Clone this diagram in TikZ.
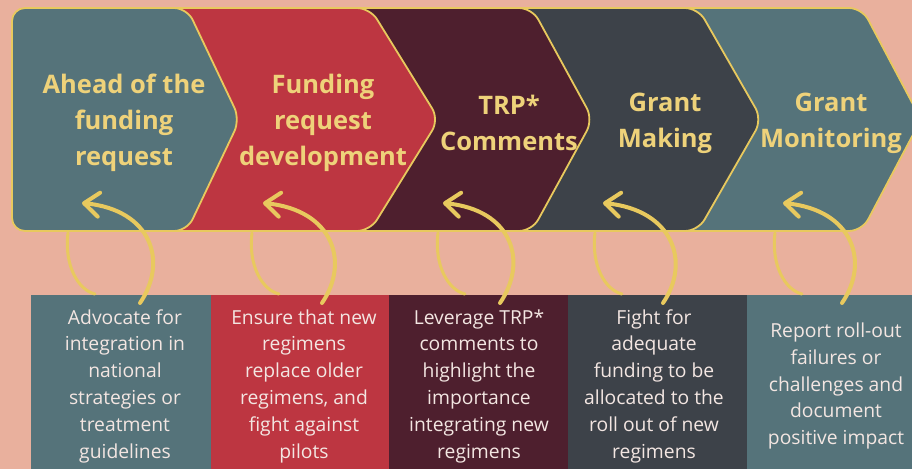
\documentclass[tikz,border=0pt]{standalone}
\usepackage{fontspec}
\setmainfont{Open Sans}
\usetikzlibrary{arrows.meta}

\definecolor{bgsalmon}{HTML}{E9B09D}
\definecolor{stageteal}{HTML}{55737A}
\definecolor{stagered}{HTML}{BD3641}
\definecolor{stagewine}{HTML}{4E1F2E}
\definecolor{stageslate}{HTML}{3D4249}
\definecolor{curlyellow}{HTML}{E8C95E}
\definecolor{titleyellow}{HTML}{EED27A}
\definecolor{notewhite}{HTML}{F3E6E2}

\begin{document}
\begin{tikzpicture}[
    x=1pt, y=-1pt,
    >={Straight Barb[length=15pt, width=24pt, round]},
    stage/.style={draw=curlyellow, line width=1.8pt, rounded corners=13pt},
    stagetitle/.style={text=titleyellow, align=center,
        font=\fontsize{25.5}{36}\selectfont\bfseries},
    notebox/.style={minimum width=180pt, minimum height=174pt, inner sep=0pt},
    notetext/.style={text=notewhite, align=center,
        font=\fontsize{19.3}{26.8}\selectfont},
    loopline/.style={curlyellow, line width=3pt, line cap=round},
    curl/.style={curlyellow, line width=4pt, line cap=round, ->}
]

% Background
\fill[bgsalmon] (0,0) rectangle (912,469);
\useasboundingbox (0,0) rectangle (912,469);

% Stage chevrons, last one first so each tip lies on the next
\foreach \l/\r/\t/\c in {670/862/921/stageteal, 500/698/762/stageslate,
        340/532/593/stagewine, 160/370/439/stagered, 12/187/240/stageteal}
    \filldraw[stage, fill=\c] (\l,8) -- (\r,8) -- (\t,119.5) -- (\r,231)
        -- (\l,231) -- cycle;

% Stage titles
\node[stagetitle] (t1) at (124,123) {Ahead of the\\funding\\request};
\node[stagetitle] (t2) at (323,123) {Funding\\request\\development};
\node[stagetitle] (t3) at (509,123) {TRP*\\Comments};
\node[stagetitle] (t4) at (665,123) {Grant\\Making};
\node[stagetitle] (t5) at (831,123) {Grant\\Monitoring};

% Action boxes
\node[notebox, fill=stageteal] (b1) at (121,382) {};
\node[notebox, fill=stagered, minimum width=178pt] (b2) at (300,382) {};
\node[notebox, fill=stagewine, minimum width=179pt] (b3) at (478.5,382) {};
\node[notebox, fill=stageslate, minimum width=179pt] (b4) at (657.5,382) {};
\node[notebox, fill=stageteal, minimum width=166pt] (b5) at (830,382) {};

% Box texts
\node[notetext] (n1) at (125,386)
    {Advocate for\\integration in\\national\\strategies or\\treatment\\guidelines};
\node[notetext] (n2) at (304,386)
    {Ensure that new\\regimens\\replace older\\regimens, and\\fight against\\pilots};
\node[notetext] (n3) at (479,386)
    {Leverage TRP*\\comments to\\highlight the\\importance\\integrating new\\regimens};
\node[notetext] (n4) at (654,386)
    {Fight for\\adequate\\funding to be\\allocated to the\\roll out of new\\regimens};
\node[notetext] (n5) at (836,386)
    {Report roll-out\\failures or\\challenges and\\document\\positive impact};

% Curly arrows from each box back up to its stage
\foreach \n/\a/\s/\e in {1/68/140/82, 2/252/322/263, 3/438/500/443,
        4/595/663/603, 5/775/842/783} {
    \coordinate (foot\n) at (\a,233);
    \coordinate (land\n) at (\a+27,294);
    \coordinate (from\n) at (\s,303);
    \coordinate (to\n) at (\e,203);
    \draw[loopline] (foot\n) .. controls +(-4,32) and +(-17,-4) .. (land\n);
    \draw[curl] (from\n) .. controls +(28,-41) and +(70,7) .. (to\n);
}

\end{tikzpicture}
\end{document}
